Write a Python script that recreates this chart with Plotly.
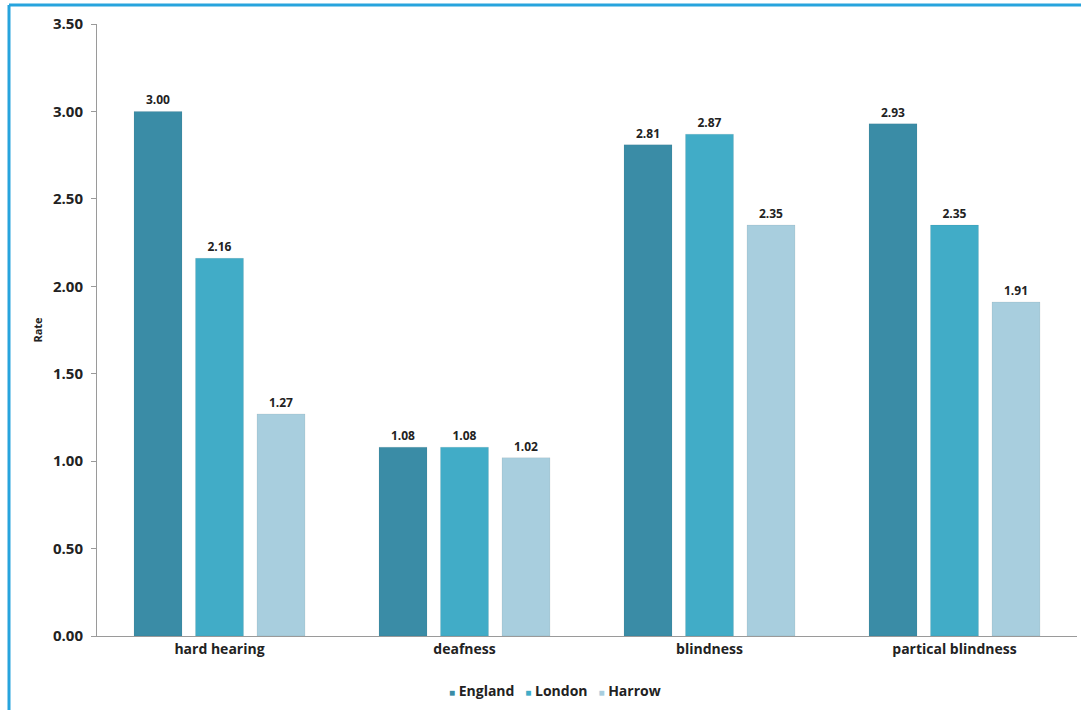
import plotly.graph_objects as go

categories = ["hard hearing", "deafness", "blindness", "partical blindness"]
england = [3.00, 1.08, 2.81, 2.93]
london = [2.16, 1.08, 2.87, 2.35]
harrow = [1.27, 1.02, 2.35, 1.91]
series = [("England", england, "#3A8CA6"), ("London", london, "#41ACC7"), ("Harrow", harrow, "#A8CEDE")]

W, H = 1081, 710
L, R, T, B = 97, 4, 24, 74

fig = go.Figure()
for name, vals, col in series:
    fig.add_trace(go.Bar(
        x=categories, y=vals, name=name, showlegend=False,
        marker=dict(color=col, line=dict(color="rgba(0,0,0,0.06)", width=1)),
        text=[f"{v:.2f}" for v in vals], textposition="outside",
        textfont=dict(family="Open Sans", size=12, color="#222222", weight="bold"),
        cliponaxis=False,
    ))

def px_x(p):
    return (p - L) / (W - L - R)

def px_y(p):
    return 1 - (p - T) / (H - T - B)

legend_html = "&nbsp;&nbsp;&nbsp;".join(
    f"<span style='color:{col};font-size:10px'>■</span> {name}" for name, _, col in series
)

fig.update_layout(
    width=W, height=H,
    margin=dict(l=L, r=R, t=T, b=B),
    paper_bgcolor="white", plot_bgcolor="white",
    barmode="group", bargap=0.247, bargroupgap=0.22,
    showlegend=False,
    font=dict(family="Open Sans", color="#222222"),
    xaxis=dict(showline=True, linecolor="#9a9a9a", linewidth=1, ticks="",
               tickfont=dict(size=14, family="Open Sans", weight="bold"),
               showgrid=False),
    yaxis=dict(range=[0, 3.5], dtick=0.5, tickformat=".2f", showline=True,
               linecolor="#9a9a9a", linewidth=1, ticks="outside", ticklen=5,
               tickcolor="#9a9a9a", showgrid=False, zeroline=False,
               ticklabelstandoff=5,
               tickfont=dict(size=15, family="Open Sans", weight="bold"),
               title=dict(text="Rate", font=dict(size=11, family="Open Sans", weight="bold"), standoff=8)),
    annotations=[
        dict(text=legend_html, xref="paper", yref="paper", x=px_x(555), y=px_y(690),
             xanchor="center", yanchor="middle", showarrow=False,
             font=dict(size=14, family="Open Sans", weight="bold", color="#222222")),
    ],
    shapes=[
        dict(type="line", xref="paper", yref="paper", x0=px_x(9), x1=px_x(1081), y0=px_y(5), y1=px_y(5),
             line=dict(color="#27A4DD", width=3)),
        dict(type="line", xref="paper", yref="paper", x0=px_x(9), x1=px_x(9), y0=px_y(5), y1=px_y(710),
             line=dict(color="#27A4DD", width=3)),
    ],
)

fig.write_html("out.html")
